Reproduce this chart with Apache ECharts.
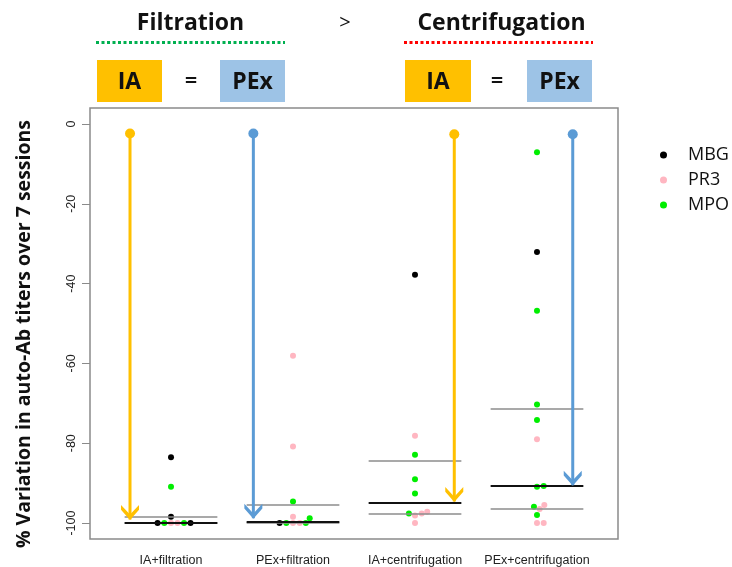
<!DOCTYPE html>
<html>
<head>
<meta charset="utf-8">
<title>Variation in auto-Ab titers</title>
<script src="https://cdn.jsdelivr.net/npm/echarts@6/dist/echarts.min.js"></script>
<style>
  html, body { margin: 0; padding: 0; background: #fff; }
  #chart { width: 732px; height: 567px; }
</style>
</head>
<body>
<div id="chart"></div>
<script>
// groups on the x axis (positions 1..4)
const categories = ['IA+filtration', 'PEx+filtration', 'IA+centrifugation', 'PEx+centrifugation'];
const yTicks = [-100, -80, -60, -40, -20, 0];
const yTitle = '% Variation in auto-Ab titers over 7 sessions';

// points as [x, % variation]; x = group + small jitter for ties
const mbg = [
  [1, -83.5], [1, -98.4], [0.89, -100], [1.16, -100],
  [1.89, -100],
  [3, -37.8],
  [4, -32.1]
];
const pr3 = [
  [1, -100], [1.053, -100],
  [2, -58.1], [2, -80.8], [2, -98.4], [2, -100], [2.055, -100],
  [3, -78.1], [3, -98.1], [3.055, -97.6], [3.1, -97.2], [3, -100],
  [4, -79.0], [4.022, -96.5], [4.06, -95.5], [4, -100], [4.055, -100]
];
const mpo = [
  [1, -90.9], [0.945, -100], [1.107, -100],
  [2, -94.6], [2.137, -98.8], [1.945, -100], [2.105, -100],
  [3, -82.9], [3, -89.0], [3, -92.6], [2.95, -97.6],
  [4, -7.1], [4, -46.8], [4, -70.3], [4, -74.2], [4, -90.9], [4.055, -90.7], [3.975, -95.9], [4, -98.0]
];

// summary lines per group
const medians = [-100, -99.6, -94.9, -90.7];
const lowerQ = [-100, -100, -97.6, -96.4];
const upperQ = [-98.4, -95.3, -84.4, -71.3];

// annotation arrows: x, start, end
const orangeArrows = [[0.664, -2.4, -99.1], [3.322, -2.6, -94.6]];
const blueArrows = [[1.675, -2.4, -98.8], [4.293, -2.6, -90.5]];

const chart = echarts.init(document.getElementById('chart'));

const halfWidth = 0.38;
const chevron = 'path://M0,0 L9,10 L18,0 L18,5 L9,15.5 L0,5 Z';

function summaryLines() {
  const out = [];
  categories.forEach(function (c, i) {
    const x = i + 1;
    [[lowerQ[i], '#8c8c8c', 1.5], [upperQ[i], '#8c8c8c', 1.5], [medians[i], '#111', 2.2]].forEach(function (s) {
      out.push([
        { coord: [x - halfWidth, s[0]], lineStyle: { color: s[1], width: s[2], type: 'solid' } },
        { coord: [x + halfWidth, s[0]] }
      ]);
    });
  });
  return out;
}

function arrowSeries(list, color) {
  const data = [];
  list.forEach(function (a, i) {
    if (i > 0) data.push('-');
    data.push({ value: [a[0], a[1]], symbol: 'circle', symbolSize: 10 });
    data.push({ value: [a[0], a[2]], symbol: chevron, symbolSize: [18, 15], symbolOffset: [0, -7] });
  });
  return {
    type: 'line',
    data: data,
    z: 5,
    silent: true,
    connectNulls: false,
    showSymbol: true,
    lineStyle: { color: color, width: 3 },
    itemStyle: { color: color, borderWidth: 0 }
  };
}

function pointSeries(name, data, color) {
  return {
    name: name,
    type: 'scatter',
    data: data,
    symbolSize: 6,
    z: 4,
    itemStyle: { color: color, opacity: 1 }
  };
}

const hdrFont = '"Open Sans", sans-serif';

function label(text, x, y, font) {
  return { type: 'text', x: x, y: y, style: { text: text, fill: '#111', font: font, align: 'center', verticalAlign: 'middle' } };
}

const option = {
  animation: false,
  backgroundColor: '#fff',
  grid: {
    left: 90, top: 108, width: 528, height: 431,
    show: true, borderColor: '#8a8a8a', borderWidth: 1.5, backgroundColor: 'transparent'
  },
  legend: {
    data: ['MBG', 'PR3', 'MPO'],
    orient: 'vertical',
    left: 655,
    top: 141,
    icon: 'circle',
    itemWidth: 7,
    itemHeight: 7,
    itemGap: 7,
    textStyle: { fontSize: 18, fontFamily: hdrFont, color: '#111', padding: [0, 0, 0, 16] }
  },
  xAxis: {
    type: 'value',
    min: 0.336,
    max: 4.664,
    axisLine: { show: false },
    axisTick: { show: false },
    splitLine: { show: false },
    axisLabel: {
      customValues: [1, 2, 3, 4],
      formatter: function (v) { return categories[Math.round(v) - 1]; },
      fontSize: 12.5,
      fontFamily: '"Liberation Sans", Arial, sans-serif',
      color: '#222',
      margin: 15
    }
  },
  yAxis: {
    type: 'value',
    min: -104,
    max: 4,
    axisLine: { show: false },
    splitLine: { show: false },
    axisTick: { show: true, customValues: yTicks, length: 8, lineStyle: { color: '#8a8a8a', width: 1 } },
    axisLabel: {
      customValues: yTicks,
      rotate: 90,
      fontSize: 12.5,
      fontFamily: '"Liberation Sans", Arial, sans-serif',
      color: '#222',
      margin: 12
    }
  },
  series: [
    {
      type: 'scatter',
      data: [],
      z: 2,
      markLine: {
        silent: true,
        symbol: ['none', 'none'],
        label: { show: false },
        animation: false,
        data: summaryLines()
      }
    },
    pointSeries('MBG', mbg, '#000000'),
    pointSeries('PR3', pr3, '#FFB6C1'),
    pointSeries('MPO', mpo, '#00EE00'),
    arrowSeries(orangeArrows, '#FFC000'),
    arrowSeries(blueArrows, '#5B9BD5')
  ],
  graphic: [
    { type: 'text', x: 24, y: 334, rotation: Math.PI / 2,
      style: { text: yTitle, fill: '#111', font: '700 19.5px ' + hdrFont, align: 'center', verticalAlign: 'middle' } },
    label('Filtration', 190.5, 23, '700 23px ' + hdrFont),
    label('>', 345, 23, '400 20px ' + hdrFont),
    label('Centrifugation', 501.5, 23, '700 23px ' + hdrFont),
    { type: 'line', shape: { x1: 96, y1: 42.5, x2: 285, y2: 42.5 }, style: { stroke: '#00B050', lineWidth: 3, lineDash: [3, 2.5] } },
    { type: 'line', shape: { x1: 404, y1: 42.5, x2: 593, y2: 42.5 }, style: { stroke: '#FF0000', lineWidth: 3, lineDash: [3, 2.5] } },
    { type: 'rect', shape: { x: 97, y: 60, width: 65, height: 42 }, style: { fill: '#FFC000' } },
    { type: 'rect', shape: { x: 220, y: 60, width: 65, height: 42 }, style: { fill: '#9DC3E6' } },
    { type: 'rect', shape: { x: 405, y: 60, width: 66, height: 42 }, style: { fill: '#FFC000' } },
    { type: 'rect', shape: { x: 527, y: 60, width: 65, height: 42 }, style: { fill: '#9DC3E6' } },
    label('IA', 129.5, 82, '700 23px ' + hdrFont),
    label('=', 191, 82, '600 22px ' + hdrFont),
    label('PEx', 252.5, 82, '700 23px ' + hdrFont),
    label('IA', 438, 82, '700 23px ' + hdrFont),
    label('=', 497, 82, '600 22px ' + hdrFont),
    label('PEx', 559.5, 82, '700 23px ' + hdrFont)
  ]
};

chart.setOption(option);
</script>
</body>
</html>
